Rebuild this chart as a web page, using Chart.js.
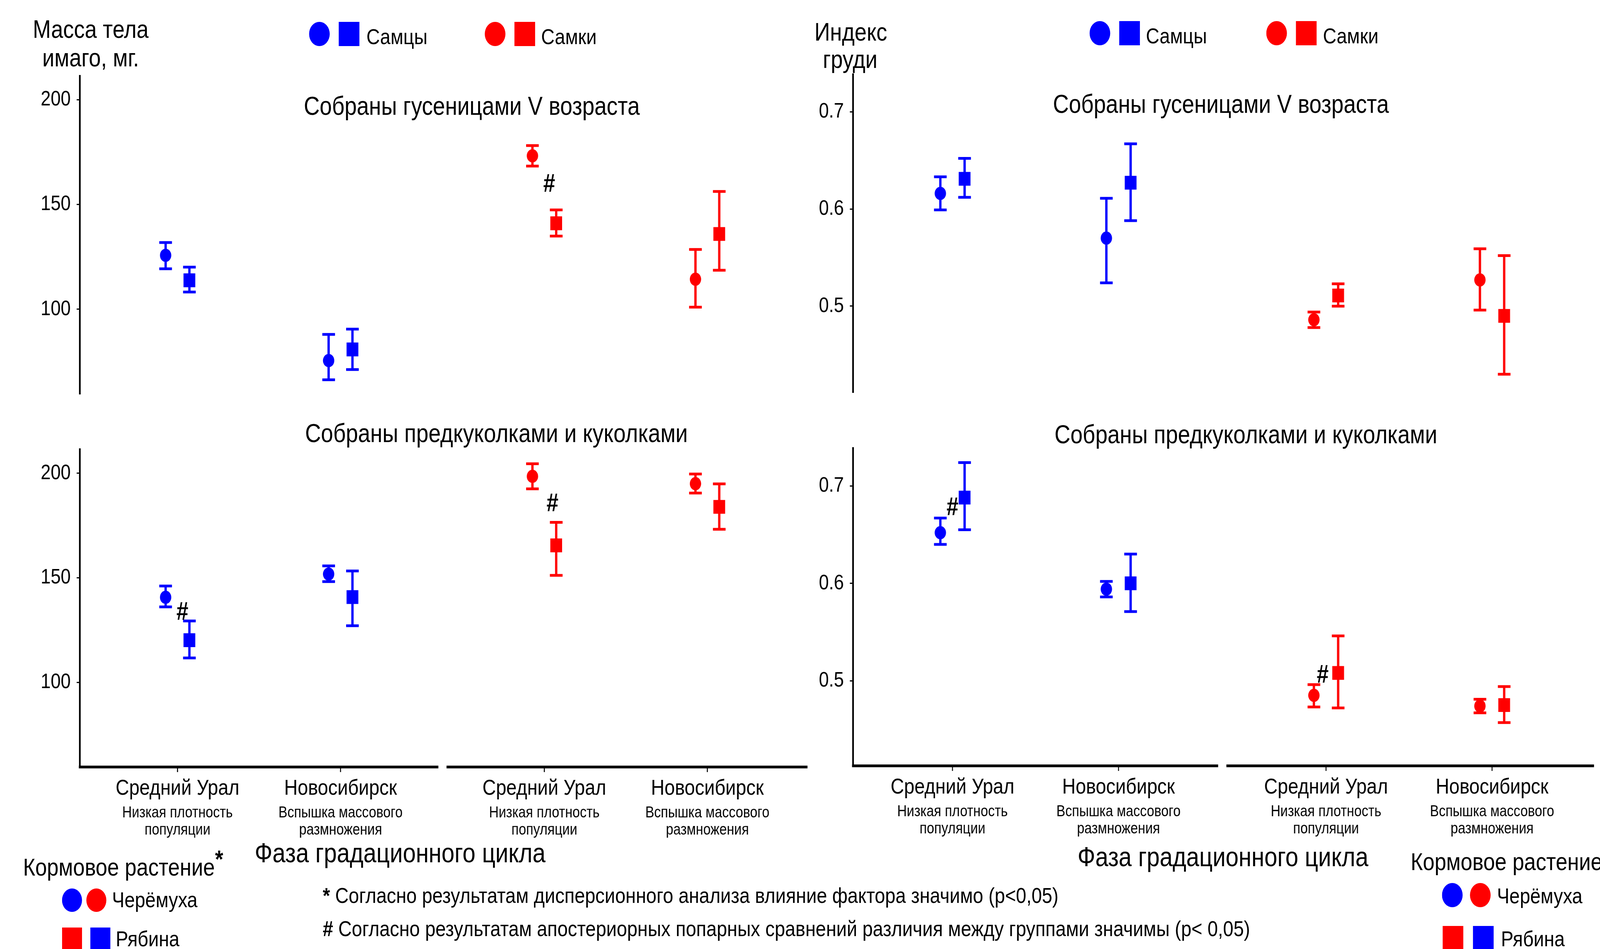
<!DOCTYPE html>
<html>
<head>
<meta charset="utf-8">
<script src="https://cdn.jsdelivr.net/npm/chart.js@4.4.0/dist/chart.umd.min.js"></script>
<style>
    html, body { margin: 0; padding: 0; background: #fff; overflow: hidden; }
    #stage { position: absolute; left: 0; top: 0; width: 4799px; height: 2430px; transform-origin: 0 0; font-family: "Liberation Sans", Arial, sans-serif; background: #fff; overflow: hidden; }
    canvas { position: absolute; }
    .t { position: absolute; white-space: nowrap; color: #000; line-height: 1; }
    .m { position: absolute; }
</style>
</head>
<body>
<div id="stage">
    <canvas id="massLarva" width="2440" height="1068" style="left:0;top:0"></canvas>
    <canvas id="massPupa" width="2440" height="1430" style="left:0;top:1000px"></canvas>
    <canvas id="indexLarva" width="2379" height="1064" style="left:2420px;top:0"></canvas>
    <canvas id="indexPupa" width="2379" height="1430" style="left:2420px;top:1000px"></canvas>
</div>
<script>
// categories (два фасета: самцы | самки)
const categories = ['Средний Урал', 'Новосибирск', 'Средний Урал', 'Новосибирск'];
const categoryNotes = [
    ['Низкая плотность', 'популяции'],
    ['Вспышка массового', 'размножения'],
    ['Низкая плотность', 'популяции'],
    ['Вспышка массового', 'размножения']
];
const categoryPos = [1, 2, 3.25, 4.25];
const categorySex = ['male', 'male', 'female', 'female'];

const massTicks = [100, 150, 200];
const massTickLabels = ['100', '150', '200'];
const indexTicks = [0.5, 0.6, 0.7];
const indexTickLabels = ['0.5', '0.6', '0.7'];

// Масса тела, собраны гусеницами V возраста
const massLarvaCherry = [125.7, 75.5, 173.2, 114.3];
const massLarvaCherryLo = [119.3, 66.3, 168.3, 101.0];
const massLarvaCherryHi = [131.8, 88.0, 178.1, 128.5];
const massLarvaRowan = [113.8, 80.8, 141.0, 135.9];
const massLarvaRowanLo = [108.2, 71.2, 134.9, 118.6];
const massLarvaRowanHi = [120.1, 90.5, 147.4, 156.2];
const massLarvaHash = [[3.28, 159.4]];

// Масса тела, собраны предкуколками и куколками
const massPupaCherry = [140.7, 151.8, 198.5, 195.0];
const massPupaCherryLo = [136.1, 148.2, 192.5, 190.5];
const massPupaCherryHi = [146.1, 155.7, 204.5, 199.6];
const massPupaRowan = [120.2, 140.8, 165.5, 183.9];
const massPupaRowanLo = [111.7, 127.1, 151.2, 173.2];
const massPupaRowanHi = [129.4, 153.3, 176.5, 194.9];
const massPupaHash = [[1.03, 133.3], [3.3, 185.1]];

// Индекс груди, собраны гусеницами V возраста
const indexLarvaCherry = [0.616, 0.570, 0.486, 0.527];
const indexLarvaCherryLo = [0.599, 0.524, 0.478, 0.496];
const indexLarvaCherryHi = [0.633, 0.611, 0.494, 0.559];
const indexLarvaRowan = [0.631, 0.627, 0.511, 0.490];
const indexLarvaRowanLo = [0.612, 0.588, 0.500, 0.430];
const indexLarvaRowanHi = [0.652, 0.667, 0.523, 0.552];
const indexLarvaHash = [];

// Индекс груди, собраны предкуколками и куколками
const indexPupaCherry = [0.652, 0.594, 0.485, 0.474];
const indexPupaCherryLo = [0.640, 0.586, 0.473, 0.467];
const indexPupaCherryHi = [0.667, 0.602, 0.496, 0.481];
const indexPupaRowan = [0.688, 0.600, 0.508, 0.475];
const indexPupaRowanLo = [0.655, 0.571, 0.472, 0.457];
const indexPupaRowanHi = [0.724, 0.630, 0.546, 0.494];
const indexPupaHash = [[1.0, 0.677], [3.23, 0.505]];

const FONT = '"Liberation Sans", Arial, sans-serif';
const sexColor = { male: '#0000ff', female: '#ff0000' };
const DODGE = 0.073;

// the layout is drawn at 4799x2430 and fitted to whatever the window gives
const stage = document.getElementById('stage');
stage.style.transform = 'scale(' + (window.innerWidth / 4799) + ',' + (window.innerHeight / 2430) + ')';

// error bars are drawn under the points
const errorBarPlugin = {
    id: 'errorBars',
    beforeDatasetsDraw(chart) {
        const { ctx, scales: { x, y } } = chart;
        ctx.save();
        ctx.lineWidth = 7;
        chart.data.datasets.forEach(ds => {
            ds.data.forEach((p, i) => {
                const px = x.getPixelForValue(p.x);
                const lo = y.getPixelForValue(ds.errLo[i]);
                const hi = y.getPixelForValue(ds.errHi[i]);
                ctx.strokeStyle = ds.pointBackgroundColor[i];
                ctx.beginPath();
                ctx.moveTo(px, lo); ctx.lineTo(px, hi);
                ctx.moveTo(px - 19, lo); ctx.lineTo(px + 19, lo);
                ctx.moveTo(px - 19, hi); ctx.lineTo(px + 19, hi);
                ctx.stroke();
            });
        });
        ctx.restore();
    }
};

// broken x axis (one piece per facet) + category labels, and the # marks
const facetAxisPlugin = {
    id: 'facetAxis',
    afterDraw(chart, args, opts) {
        const { ctx, chartArea, scales: { x, y } } = chart;
        ctx.save();
        ctx.fillStyle = '#000';
        ctx.textAlign = 'center';
        ctx.textBaseline = 'middle';
        ctx.font = 'bold 64px ' + FONT;
        (opts.hash || []).forEach(h => {
            ctx.fillText('#', x.getPixelForValue(h[0]), y.getPixelForValue(h[1]));
        });
        if (opts.show) {
            const yb = chartArea.bottom;
            ctx.strokeStyle = '#000';
            ctx.lineWidth = 7;
            ctx.beginPath();
            ctx.moveTo(chartArea.left - 2.5, yb);
            ctx.lineTo(x.getPixelForValue(2.6), yb);
            ctx.moveTo(x.getPixelForValue(2.65), yb);
            ctx.lineTo(chartArea.right + 7, yb);
            ctx.stroke();
            ctx.lineWidth = 3;
            ctx.beginPath();
            categoryPos.forEach(v => {
                const px = x.getPixelForValue(v);
                ctx.moveTo(px, yb + 3);
                ctx.lineTo(px, yb + 13);
            });
            ctx.stroke();
            ctx.textBaseline = 'alphabetic';
            categories.forEach((c, i) => {
                const px = x.getPixelForValue(categoryPos[i]);
                ctx.font = '56px ' + FONT;
                ctx.fillText(c, px, yb + 71);
                ctx.font = '40px ' + FONT;
                ctx.fillText(categoryNotes[i][0], px, yb + 129);
                ctx.fillText(categoryNotes[i][1], px, yb + 173);
            });
        }
        ctx.restore();
    }
};

function buildDatasets(cherry, cherryLo, cherryHi, rowan, rowanLo, rowanHi) {
    const colors = categorySex.map(s => sexColor[s]);
    return [
        {
            label: 'Черёмуха',
            data: categoryPos.map((x, i) => ({ x: x - DODGE, y: cherry[i] })),
            errLo: cherryLo, errHi: cherryHi,
            pointStyle: 'circle', pointRadius: 17,
            pointBackgroundColor: colors, pointBorderColor: colors, pointBorderWidth: 0,
            showLine: false
        },
        {
            label: 'Рябина',
            data: categoryPos.map((x, i) => ({ x: x + DODGE, y: rowan[i] })),
            errLo: rowanLo, errHi: rowanHi,
            pointStyle: 'rect', pointRadius: 25,
            pointBackgroundColor: colors, pointBorderColor: colors, pointBorderWidth: 0,
            showLine: false
        }
    ];
}

function createPanel(id, datasets, cfg) {
    const ctx = document.getElementById(id).getContext('2d');
    return new Chart(ctx, {
        type: 'scatter',
        data: { datasets: datasets },
        options: {
            responsive: false,
            animation: false,
            devicePixelRatio: 1,
            layout: { padding: cfg.padding },
            plugins: {
                legend: { display: false },
                tooltip: { enabled: false },
                facetAxis: { show: cfg.showX, hash: cfg.hash }
            },
            scales: {
                x: { type: 'linear', display: false, min: 0.4, max: 4.85 },
                y: {
                    min: cfg.min,
                    max: cfg.max,
                    afterBuildTicks: s => { s.ticks = cfg.ticks.map(v => ({ value: v })); },
                    afterFit: s => { s.width = cfg.axisWidth; },
                    ticks: {
                        callback: (v, i) => cfg.labels[i],
                        color: '#000',
                        font: { size: 54, family: FONT },
                        padding: 18
                    },
                    grid: { display: true, drawOnChartArea: false, drawTicks: true, tickLength: 9, color: '#000', lineWidth: 3 },
                    border: { display: true, color: '#000', width: 5 }
                }
            }
        },
        plugins: [errorBarPlugin, facetAxisPlugin]
    });
}

createPanel('massLarva',
    buildDatasets(massLarvaCherry, massLarvaCherryLo, massLarvaCherryHi, massLarvaRowan, massLarvaRowanLo, massLarvaRowanHi),
    { padding: { top: 194, bottom: 60, left: 0, right: 12 }, min: 59.7, max: 211.4, ticks: massTicks, labels: massTickLabels, axisWidth: 239, showX: false, hash: massLarvaHash });
createPanel('massPupa',
    buildDatasets(massPupaCherry, massPupaCherryLo, massPupaCherryHi, massPupaRowan, massPupaRowanLo, massPupaRowanHi),
    { padding: { top: 150, bottom: 466, left: 0, right: 12 }, min: 59.6, max: 211.5, ticks: massTicks, labels: massTickLabels, axisWidth: 239, showX: true, hash: massPupaHash });
createPanel('indexLarva',
    buildDatasets(indexLarvaCherry, indexLarvaCherryLo, indexLarvaCherryHi, indexLarvaRowan, indexLarvaRowanLo, indexLarvaRowanHi),
    { padding: { top: 190, bottom: 60, left: 0, right: 1 }, min: 0.4116, max: 0.7386, ticks: indexTicks, labels: indexTickLabels, axisWidth: 138, showX: false, hash: indexLarvaHash });
createPanel('indexPupa',
    buildDatasets(indexPupaCherry, indexPupaCherryLo, indexPupaCherryHi, indexPupaRowan, indexPupaRowanLo, indexPupaRowanHi),
    { padding: { top: 147, bottom: 469, left: 0, right: 1 }, min: 0.4126, max: 0.739, ticks: indexTicks, labels: indexTickLabels, axisWidth: 138, showX: true, hash: indexPupaHash });

// text and legend keys around the panels
function addText(html, x, baseline, size, align) {
    const d = document.createElement('div');
    d.className = 't';
    d.innerHTML = html;
    d.style.fontSize = size + 'px';
    d.style.top = (baseline - 0.8465 * size) + 'px';
    d.style.left = x + 'px';
    if (align === 'center') d.style.transform = 'translateX(-50%)';
    stage.appendChild(d);
}

function addMarker(shape, color, cx, cy, w, h) {
    const d = document.createElement('div');
    d.className = 'm';
    d.style.background = color;
    d.style.width = w + 'px';
    d.style.height = h + 'px';
    d.style.left = (cx - w / 2) + 'px';
    d.style.top = (cy - h / 2) + 'px';
    if (shape === 'circle') d.style.borderRadius = '50%';
    stage.appendChild(d);
}

addText('Масса тела', 272, 97, 65, 'center');
addText('имаго, мг.', 272, 170, 65, 'center');
addText('Индекс', 2552, 104, 65, 'center');
addText('груди', 2550, 174, 65, 'center');

addMarker('circle', sexColor.male, 958, 87, 62, 62);
addMarker('rect', sexColor.male, 1047, 87, 62, 62);
addText('Самцы', 1099, 113, 56);
addMarker('circle', sexColor.female, 1485, 87, 62, 62);
addMarker('rect', sexColor.female, 1574, 87, 62, 62);
addText('Самки', 1623, 113, 56);

addMarker('circle', sexColor.male, 3299, 85, 62, 62);
addMarker('rect', sexColor.male, 3388, 85, 62, 62);
addText('Самцы', 3437, 111, 56);
addMarker('circle', sexColor.female, 3829, 85, 62, 62);
addMarker('rect', sexColor.female, 3918, 85, 62, 62);
addText('Самки', 3968, 111, 56);

addText('Собраны гусеницами V возраста', 1415, 294, 66, 'center');
addText('Собраны предкуколками и куколками', 1489, 1132, 66, 'center');
addText('Собраны гусеницами V возраста', 3662, 289, 66, 'center');
addText('Собраны предкуколками и куколками', 3737, 1135, 66, 'center');

addText('Фаза градационного цикла', 1200, 2208, 70, 'center');
addText('Фаза градационного цикла', 3668, 2218, 70, 'center');

addText('Кормовое растение', 69, 2242, 63);
addText('<b>*</b>', 645, 2221, 63);
addMarker('circle', sexColor.male, 216, 2305, 60, 60);
addMarker('circle', sexColor.female, 289, 2305, 60, 60);
addText('Черёмуха', 336, 2323, 56);
addMarker('rect', sexColor.female, 216, 2405, 60, 60);
addMarker('rect', sexColor.male, 301, 2405, 60, 60);
addText('Рябина', 347, 2423, 56);

addText('Кормовое растение', 4231, 2228, 63);
addMarker('circle', sexColor.male, 4356, 2292, 62, 62);
addMarker('circle', sexColor.female, 4440, 2292, 62, 62);
addText('Черёмуха', 4490, 2313, 56);
addMarker('rect', sexColor.female, 4358, 2402, 62, 62);
addMarker('rect', sexColor.male, 4449, 2402, 62, 62);
addText('Рябина', 4502, 2423, 56);

addText('<b>*</b> Согласно результатам дисперсионного анализа влияние фактора значимо (p&lt;0,05)', 968, 2312, 56);
addText('<b>#</b> Согласно результатам апостериорных попарных сравнений различия между группами значимы (p&lt; 0,05)', 968, 2397, 56);
</script>
</body>
</html>
